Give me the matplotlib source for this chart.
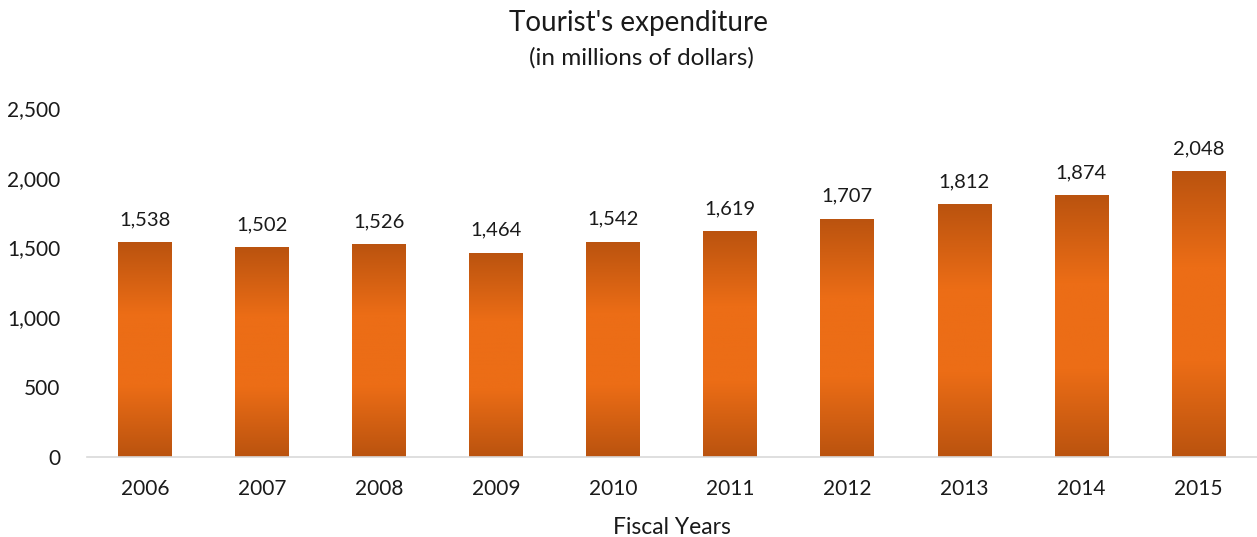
import matplotlib
matplotlib.use("Agg")
from matplotlib import pyplot as plt
from matplotlib.colors import LinearSegmentedColormap
import numpy as np

plt.rcParams['font.family'] = ['Lato', 'DejaVu Sans']

years = ['2006', '2007', '2008', '2009', '2010', '2011', '2012', '2013', '2014', '2015']
spend = [1538, 1502, 1526, 1464, 1542, 1619, 1707, 1812, 1874, 2048]

fig = plt.figure(figsize=(12.57, 5.37), dpi=100)
ax = fig.add_axes([0.069, 0.149, 0.931, 0.650])

x = np.arange(len(years))
bars = ax.bar(x, spend, width=0.46, color='none', edgecolor='none')

# dark at top and bottom, bright orange in the middle
cmap = LinearSegmentedColormap.from_list('grad', ['#BA530F', '#EC6D16', '#EC6D16', '#BA530F'])
grad = np.linspace(0, 1, 256).reshape(-1, 1)
for b in bars:
    x0, y0 = b.get_x(), b.get_y()
    w, h = b.get_width(), b.get_height()
    im = ax.imshow(grad, cmap=cmap, aspect='auto', extent=[x0, x0 + w, y0, y0 + h],
                   origin='lower', zorder=2)
    im.set_clip_path(b)
    ax.annotate(f'{h:,.0f}', (x0 + w / 2, h), xytext=(0, 10), textcoords='offset points',
                ha='center', va='bottom', fontsize=14.5, color='#1a1a1a')

ax.set_xlim(-0.5, len(years) - 0.5)
ax.set_ylim(0, 2500)
ax.set_xticks(x)
ax.set_xticklabels(years)
ax.set_yticks(range(0, 2501, 500))
ax.set_yticklabels([f'{v:,}' for v in range(0, 2501, 500)])
ax.tick_params(axis='both', length=0, labelsize=15, colors='#1a1a1a')
ax.tick_params(axis='y', pad=19)
ax.tick_params(axis='x', pad=16)
for s in ['top', 'right', 'left']:
    ax.spines[s].set_visible(False)
ax.spines['bottom'].set_color('#D9D9D9')
ax.spines['bottom'].set_linewidth(1.2)
ax.set_xlabel('Fiscal Years', fontsize=16.5, color='#1a1a1a', labelpad=13)

fig.text(0.508, 0.958, "Tourist's expenditure", ha='center', va='center', fontsize=20, color='#1a1a1a')
fig.text(0.510, 0.892, "(in millions of dollars)", ha='center', va='center', fontsize=17.5, color='#1a1a1a')

fig.savefig('out.png', dpi=100)
